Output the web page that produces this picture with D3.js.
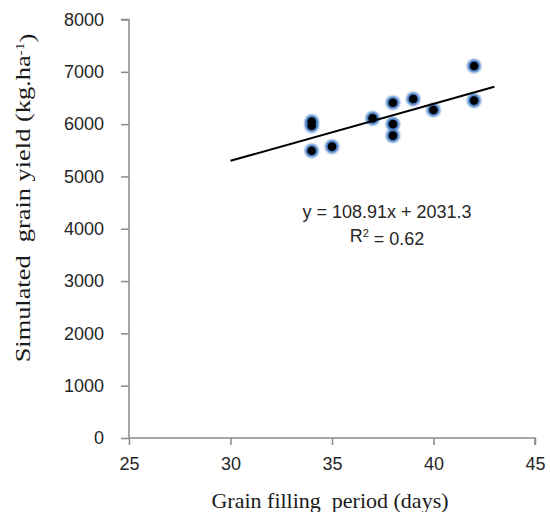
<!DOCTYPE html>
<html>
<head>
<meta charset="utf-8">
<script src="https://cdn.jsdelivr.net/npm/d3@7"></script>
<style>
  html, body { margin: 0; padding: 0; background: #fff; }
  svg { display: block; }
</style>
</head>
<body>
<script>
// ---- data ----
const days = [34, 34, 34, 35, 37, 38, 38, 38, 39, 40, 42, 42];
const yields = [6050, 5970, 5490, 5570, 6110, 6410, 6000, 5780, 6480, 6270, 6450, 7110];
const xTicks = [25, 30, 35, 40, 45];
const yTicks = [0, 1000, 2000, 3000, 4000, 5000, 6000, 7000, 8000];
const trendSlope = 108.91;
const trendIntercept = 2031.3;
const trendRange = [30, 43];
const equationText = "y = 108.91x + 2031.3";
const r2Text = "0.62";

const W = 550, H = 512;
const svg = d3.select("body").append("svg").attr("width", W).attr("height", H);

const x = d3.scaleLinear().domain([25, 45]).range([129, 535]);
const y = d3.scaleLinear().domain([0, 8000]).range([438, 19.5]);

const axisColor = "#8a8a8a";
const labelFont = "'Liberation Sans', Arial, sans-serif";
const serif = "'Liberation Serif', 'Times New Roman', serif";

// y axis
const gy = svg.append("g").attr("transform", `translate(${x(25)},0)`)
  .call(d3.axisLeft(y).tickValues(yTicks).tickSize(8).tickPadding(17).tickFormat(d3.format("d")));
// x axis
const gx = svg.append("g").attr("transform", `translate(0,${y(0)})`)
  .call(d3.axisBottom(x).tickValues(xTicks).tickSize(7).tickPadding(12).tickFormat(d3.format("d")));

[gx, gy].forEach(g => {
  g.select(".domain").attr("stroke", axisColor).attr("stroke-width", 1.5);
  g.selectAll(".tick line").attr("stroke", axisColor).attr("stroke-width", 1.5);
  g.selectAll(".tick text").attr("fill", "#262626").style("font-family", labelFont).style("font-size", "18px");
});
gy.select(".domain").attr("d", `M-8,${y(8000)}H0V${y(0)}`);
gx.select(".domain").attr("d", `M${x(25)},0H${x(45)}V7`);

// axis titles
svg.append("text")
  .attr("x", 330).attr("y", 508)
  .attr("text-anchor", "middle")
  .style("font-family", serif).style("font-size", "22px").attr("fill", "#1a1a1a")
  .style("white-space", "pre")
  .text("Grain filling  period (days)");

const yt = svg.append("text")
  .attr("transform", "translate(30,198) rotate(-90) scale(1.2,1)")
  .attr("text-anchor", "middle")
  .style("font-family", serif).style("font-size", "22px").attr("fill", "#1a1a1a")
  .style("white-space", "pre");
yt.append("tspan").text("Simulated  grain yield (kg.ha");
yt.append("tspan").attr("dy", "-0.45em").style("font-size", "13px").text("-1");
yt.append("tspan").attr("dy", "0.45em").text(")");

// glow filter
const defs = svg.append("defs");
const f = defs.append("filter").attr("id", "glow").attr("x", "-50%").attr("y", "-50%").attr("width", "200%").attr("height", "200%");
f.append("feGaussianBlur").attr("stdDeviation", 1.3);

const pts = days.map((d, i) => ({ d, v: yields[i] }));
svg.append("g").selectAll("circle").data(pts).join("circle")
  .attr("cx", p => x(p.d)).attr("cy", p => y(p.v)).attr("r", 6.8)
  .attr("fill", "#3d78c2").attr("filter", "url(#glow)");
svg.append("g").selectAll("circle").data(pts).join("circle")
  .attr("cx", p => x(p.d)).attr("cy", p => y(p.v)).attr("r", 4.3)
  .attr("fill", "#000");

// trend line
svg.append("line")
  .attr("x1", x(trendRange[0])).attr("y1", y(trendSlope * trendRange[0] + trendIntercept))
  .attr("x2", x(trendRange[1])).attr("y2", y(trendSlope * trendRange[1] + trendIntercept))
  .attr("stroke", "#000").attr("stroke-width", 2);

// equation
svg.append("text").attr("x", 387).attr("y", 218).attr("text-anchor", "middle")
  .style("font-family", labelFont).style("font-size", "18px").attr("fill", "#262626")
  .text(equationText);
const r2 = svg.append("text").attr("x", 387).attr("y", 242).attr("text-anchor", "middle")
  .style("font-family", labelFont).style("font-size", "18px").attr("fill", "#262626");
r2.append("tspan").text("R");
r2.append("tspan").attr("dy", "-0.45em").style("font-size", "11px").text("2");
r2.append("tspan").attr("dy", "0.45em").text(" = " + r2Text);
</script>
</body>
</html>
